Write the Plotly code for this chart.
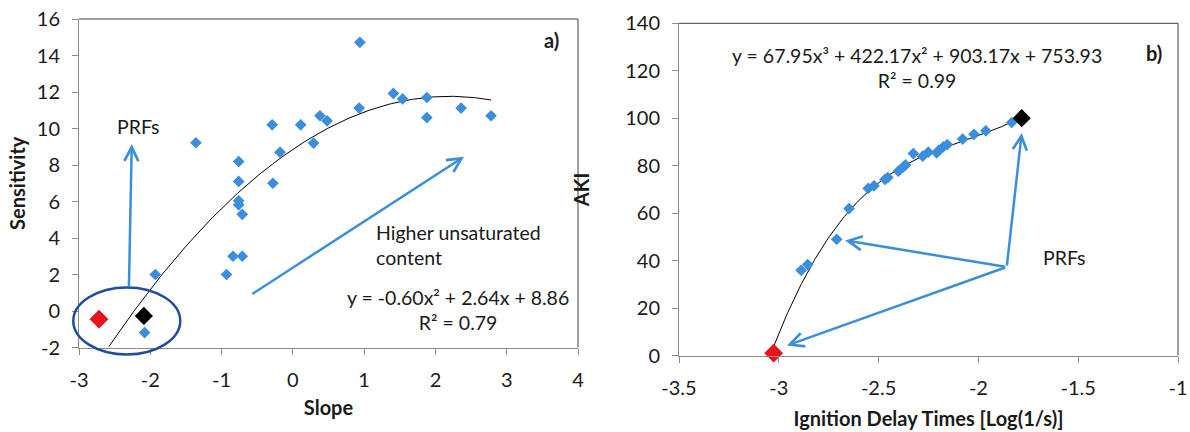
import numpy as np
import plotly.graph_objects as go

# ---------------- Data: panel a) ----------------
slope_blue = [0.94, 1.41, 1.54, 1.88, 1.88, 2.36, 2.78, 0.93, 0.38, 0.48, 0.11, -0.29,
              0.29, -0.18, -0.28, -1.36, -0.76, -0.76, -0.76, -0.76, -0.71, -0.84,
              -0.71, -0.93, -1.93, -2.08]
sens_blue = [14.72, 11.92, 11.62, 11.70, 10.60, 11.12, 10.70, 11.12, 10.70, 10.42, 10.20, 10.20,
             9.20, 8.70, 7.00, 9.22, 8.19, 7.10, 6.04, 5.82, 5.30, 3.00,
             3.00, 2.00, 2.00, -1.18]
slope_red = [-2.72]
sens_red = [-0.45]
slope_black = [-2.09]
sens_black = [-0.27]
fit_a_coef = [-0.60, 2.64, 8.86]          # y = -0.60x^2 + 2.64x + 8.86
fit_a_range = [-2.58, 2.78]

xa_ticks = [-3, -2, -1, 0, 1, 2, 3, 4]
xa_text = ["-3", "-2", "-1", "0", "1", "2", "3", "4"]
ya_ticks = [-2, 0, 2, 4, 6, 8, 10, 12, 14, 16]
ya_text = ["-2", "0", "2", "4", "6", "8", "10", "12", "14", "16"]

# ---------------- Data: panel b) ----------------
idt_blue = [-2.888, -2.855, -2.710, -2.648, -2.552, -2.523, -2.468, -2.454, -2.401, -2.376,
            -2.365, -2.326, -2.279, -2.251, -2.209, -2.198, -2.176, -2.156, -2.079, -2.022,
            -1.963, -1.833]
aki_blue = [35.9, 38.3, 49.0, 61.9, 70.4, 71.5, 74.2, 75.0, 77.7, 79.5,
            80.3, 85.1, 84.0, 85.7, 85.4, 86.5, 87.9, 88.9, 91.2, 93.2,
            94.7, 98.2]
idt_red = [-3.026]
aki_red = [1.0]
idt_black = [-1.783]
aki_black = [100.0]
fit_b_coef = [67.95, 422.17, 903.17, 753.93]
fit_b_range = [-3.03, -1.78]

xb_ticks = [-3.5, -3, -2.5, -2, -1.5, -1]
xb_text = ["-3.5", "-3", "-2.5", "-2", "-1.5", "-1"]
yb_ticks = [0, 20, 40, 60, 80, 100, 120, 140]
yb_text = ["0", "20", "40", "60", "80", "100", "120", "140"]

# ---------------- Styles ----------------
FONT = "Lato"
BLUE = "#3A8EDC"
ARROW = "#3B8FDA"
NAVY = "#1F4C9C"
AXIS = "#8C8C8C"
BORDER = "#404040"
TXT = "#1a1a1a"
TICKFS = 20
ANNFS = 19.5

XA = [-3, 4]
YA = [-2, 16]
XB = [-3.5, -1]
YB = [0, 140]

fig = go.Figure()

# panel a
fa_x = np.linspace(fit_a_range[0], fit_a_range[1], 200)
fig.add_trace(go.Scatter(x=fa_x, y=np.polyval(fit_a_coef, fa_x), mode="lines",
                         line=dict(color="black", width=1), xaxis="x", yaxis="y",
                         hoverinfo="skip"))
fig.add_trace(go.Scatter(x=slope_blue, y=sens_blue, mode="markers",
                         marker=dict(symbol="diamond", size=9, color=BLUE), xaxis="x", yaxis="y"))
fig.add_trace(go.Scatter(x=slope_red, y=sens_red, mode="markers",
                         marker=dict(symbol="diamond", size=14, color="#E8141C",
                                     line=dict(color="#B00000", width=0.5)), xaxis="x", yaxis="y"))
fig.add_trace(go.Scatter(x=slope_black, y=sens_black, mode="markers",
                         marker=dict(symbol="diamond", size=14, color="black"), xaxis="x", yaxis="y"))

# panel b
fb_x = np.linspace(fit_b_range[0], fit_b_range[1], 200)
fig.add_trace(go.Scatter(x=fb_x, y=np.polyval(fit_b_coef, fb_x), mode="lines",
                         line=dict(color="black", width=1), xaxis="x2", yaxis="y2",
                         hoverinfo="skip"))
fig.add_trace(go.Scatter(x=idt_blue, y=aki_blue, mode="markers",
                         marker=dict(symbol="diamond", size=9, color=BLUE), xaxis="x2", yaxis="y2"))
fig.add_trace(go.Scatter(x=idt_red, y=aki_red, mode="markers",
                         marker=dict(symbol="diamond", size=14, color="#E8141C",
                                     line=dict(color="#B00000", width=0.5)), xaxis="x2", yaxis="y2",
                         cliponaxis=False))
fig.add_trace(go.Scatter(x=idt_black, y=aki_black, mode="markers",
                         marker=dict(symbol="diamond", size=14, color="black"), xaxis="x2", yaxis="y2"))


def axis(rng, tv, tt, domain, anchor, title, standoff, lstand):
    return dict(range=rng, tickvals=tv, ticktext=tt, domain=domain, anchor=anchor,
                automargin=False,
                showgrid=False, zeroline=False, showline=True, linecolor=AXIS, linewidth=1,
                ticks="outside", ticklen=6, tickcolor=AXIS, tickwidth=1,
                ticklabelstandoff=lstand,
                tickfont=dict(family=FONT, size=TICKFS, color=TXT),
                title=dict(text=title, font=dict(family=FONT, size=20, color=TXT, weight="bold"),
                           standoff=standoff))


W, H = 1190, 432
xa_dom = [79 / W, 578 / W]
ya_dom = [1 - 347.5 / H, 1 - 19 / H]
xb_dom = [679 / W, 1178 / W]
yb_dom = [1 - 355.5 / H, 1 - 23.3 / H]

fig.update_layout(
    width=W, height=H, margin=dict(l=0, r=0, t=0, b=0, autoexpand=False),
    paper_bgcolor="white", plot_bgcolor="white", showlegend=False,
    font=dict(family=FONT, size=TICKFS, color=TXT),
    xaxis=axis(XA, xa_ticks, xa_text, xa_dom, "y", "Slope", 11, 8),
    yaxis=axis(YA, ya_ticks, ya_text, ya_dom, "x", "Sensitivity", 5, 8),
    xaxis2=axis(XB, xb_ticks, xb_text, xb_dom, "y2", "Ignition Delay Times [Log(1/s)]", 14, 8),
    yaxis2=axis(YB, yb_ticks, yb_text, yb_dom, "x2", "AKI", 30, 8),
)


def dom(v, rng):
    return (v - rng[0]) / (rng[1] - rng[0])


shapes = []
# plot-area borders (top & right) for both panels
for xr, yr in (("x domain", "y domain"), ("x2 domain", "y2 domain")):
    shapes.append(dict(type="line", xref=xr, yref=yr, x0=0, x1=1, y0=1, y1=1,
                       line=dict(color=BORDER, width=1)))
    shapes.append(dict(type="line", xref=xr, yref=yr, x0=1, x1=1, y0=0, y1=1,
                       line=dict(color=BORDER, width=1)))
# ellipse around PRFs in panel a
ell_x = [-3.08, -1.58]
ell_y = [-2.38, 1.29]
shapes.append(dict(type="circle", xref="x domain", yref="y domain",
                   x0=dom(ell_x[0], XA), x1=dom(ell_x[1], XA),
                   y0=dom(ell_y[0], YA), y1=dom(ell_y[1], YA),
                   line=dict(color=NAVY, width=2.5)))
fig.update_layout(shapes=shapes)

ann = []


def arrow(xr, yr, tail, head):
    ann.append(dict(xref=xr, yref=yr, axref=xr, ayref=yr, x=head[0], y=head[1],
                    ax=tail[0], ay=tail[1], text="", showarrow=True, arrowhead=5,
                    arrowsize=1.1, arrowwidth=2.5, arrowcolor=ARROW, standoff=0, startstandoff=0))


def text(xr, yr, x, y, s, size=ANNFS, bold=False, align="center", xanchor="center"):
    ann.append(dict(xref=xr, yref=yr, x=x, y=y, text=s, showarrow=False, align=align,
                    xanchor=xanchor, yanchor="middle",
                    font=dict(family=FONT, size=size, color=TXT,
                              weight="bold" if bold else "normal")))


# panel a annotations
arrow("x", "y", (-2.30, 1.25), (-2.26, 9.15))
arrow("x", "y", (-0.59, 0.88), (2.40, 8.45))
text("x", "y", -2.17, 10.1, "PRFs")
text("x", "y", 1.14, 3.62, "Higher unsaturated<br>content", align="left", xanchor="left")
text("x", "y", 2.31, 0.08, "y = -0.60x² + 2.64x + 8.86<br>R² = 0.79")
text("x", "y", 3.63, 14.85, "a)", size=20, bold=True)

# panel b annotations
prf_src = (-1.858, 37.3)
arrow("x2", "y2", prf_src, (-1.783, 93.8))
arrow("x2", "y2", prf_src, (-2.668, 48.5))
arrow("x2", "y2", prf_src, (-2.959, 4.2))
text("x2", "y2", -1.57, 41.5, "PRFs")
text("x2", "y2", -2.307, 121.0, "y = 67.95x³ + 422.17x² + 903.17x + 753.93<br>R² = 0.99")
text("x2", "y2", -1.12, 127.3, "b)", size=20, bold=True)

fig.update_layout(annotations=ann)

fig.write_html("out.html", config={"displayModeBar": False},
               post_script="document.body.style.margin='0';document.body.style.overflow='hidden';")
